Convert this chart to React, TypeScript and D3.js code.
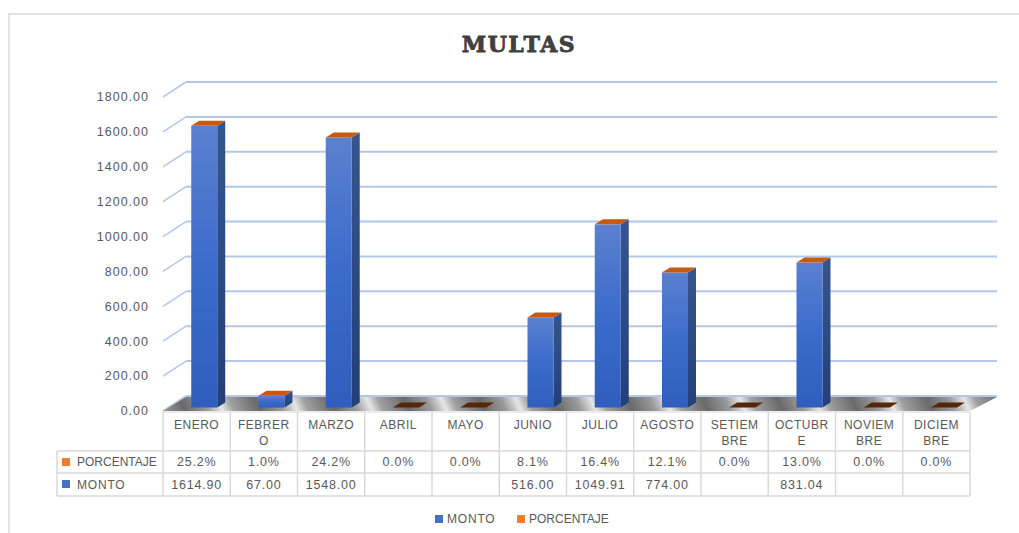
import React from "react";
import * as d3 from "d3";

const categories = ["ENERO", "FEBRERO", "MARZO", "ABRIL", "MAYO", "JUNIO", "JULIO", "AGOSTO", "SETIEMBRE", "OCTUBRE", "NOVIEMBRE", "DICIEMBRE"];
const monto: (number | null)[] = [1614.9, 67.0, 1548.0, null, null, 516.0, 1049.91, 774.0, null, 831.04, null, null];
const porcentaje = [25.2, 1.0, 24.2, 0.0, 0.0, 8.1, 16.4, 12.1, 0.0, 13.0, 0.0, 0.0];
const yTicks = [0, 200, 400, 600, 800, 1000, 1200, 1400, 1600, 1800];
const seriesNames = ["MONTO", "PORCENTAJE"];
const title = "MULTAS";

const W = 1019;
const H = 533;
const FONT = "'Liberation Sans', Arial, sans-serif";
const TXT = "#595959";
const GRID = "#b4c7e7";
const TABLE = "#d9d9d9";
const DEPTH = { dx: 23, dy: -15 };
const BAR = { fdx: 0, fdy: -3.5, sdx: 8, sdy: -5, w: 26 };

function wrap(s: string): string[] {
  const out: string[] = [];
  for (let i = 0; i < s.length; i += 6) out.push(s.slice(i, i + 6));
  return out;
}

export default function App() {
  const x = d3.scaleBand<string>().domain(categories).range([163, 970]).padding(0);
  const y = d3.scaleLinear().domain([0, 1800]).range([411, 97]);
  const bw = x.bandwidth();
  const fmt2 = d3.format(".2f");
  const fmt1 = d3.format(".1f");
  const xL = 163, xR = 970;

  const gridLines = yTicks.map((t) => {
    const y0 = y(t);
    return (
      <g key={t}>
        <line x1={xL} y1={y0} x2={xL + DEPTH.dx} y2={y0 + DEPTH.dy} stroke={GRID} strokeWidth={1.5} />
        <line x1={xL + DEPTH.dx} y1={y0 + DEPTH.dy} x2={xR + 27} y2={y0 + DEPTH.dy} stroke={GRID} strokeWidth={2} />
        <text x={149} y={y0} dy="0.35em" textAnchor="end" fontFamily={FONT} fontSize={12.5} letterSpacing={1} fill={TXT}>
          {fmt2(t)}
        </text>
      </g>
    );
  });

  const floorPts = [
    [xL, y(0)],
    [xR, y(0)],
    [xR + 27, y(0) + DEPTH.dy + 1],
    [xL + DEPTH.dx, y(0) + DEPTH.dy + 1],
  ]
    .map((p) => p.join(","))
    .join(" ");

  const bars = categories.map((c, i) => {
    const v = monto[i] ?? 0;
    const x0 = (x(c) as number) + bw * 0.42 + BAR.fdx;
    const yT = y(v) + BAR.fdy;
    const yB = y(0) + BAR.fdy;
    const topPts = [
      [x0, yT],
      [x0 + BAR.sdx, yT + BAR.sdy],
      [x0 + BAR.w + BAR.sdx, yT + BAR.sdy],
      [x0 + BAR.w, yT],
    ]
      .map((p) => p.join(","))
      .join(" ");
    if (v <= 0) {
      return <polygon key={c} points={topPts} fill="#55270a" />;
    }
    const sidePts = [
      [x0 + BAR.w, yT],
      [x0 + BAR.w + BAR.sdx, yT + BAR.sdy],
      [x0 + BAR.w + BAR.sdx, yB + BAR.sdy],
      [x0 + BAR.w, yB],
    ]
      .map((p) => p.join(","))
      .join(" ");
    return (
      <g key={c}>
        <polygon points={sidePts} fill="url(#sideGrad)" />
        <rect x={x0} y={yT} width={BAR.w} height={yB - yT} fill="url(#frontGrad)" />
        <polygon points={topPts} fill="#c55a11" />
      </g>
    );
  });

  const rowTop = 412, row1 = 451, row2 = 473, row3 = 496, tableLeft = 57;

  const header = categories.map((c) => {
    const cx = (x(c) as number) + bw / 2;
    const lines = wrap(c);
    return (
      <text key={c} x={cx} textAnchor="middle" fontFamily={FONT} fontSize={12} letterSpacing={0.5} fill={TXT}>
        {lines.map((l, k) => (
          <tspan key={k} x={cx} y={425 + k * 16} dy="0.35em">
            {l}
          </tspan>
        ))}
      </text>
    );
  });

  const pctRow = categories.map((c, i) => (
    <text key={c} x={(x(c) as number) + bw / 2} y={(row1 + row2) / 2} dy="0.35em" textAnchor="middle" fontFamily={FONT} fontSize={12.5} letterSpacing={0.8} fill={TXT}>
      {fmt1(porcentaje[i]) + "%"}
    </text>
  ));
  const montoRow = categories.map((c, i) => (
    <text key={c} x={(x(c) as number) + bw / 2} y={(row2 + row3) / 2} dy="0.35em" textAnchor="middle" fontFamily={FONT} fontSize={12.5} letterSpacing={0.8} fill={TXT}>
      {monto[i] == null ? "" : fmt2(monto[i] as number)}
    </text>
  ));

  const colLines = [...categories.map((c) => x(c) as number), xR].map((xx, k) => (
    <line key={k} x1={xx} y1={rowTop} x2={xx} y2={row3} stroke={TABLE} strokeWidth={1.5} />
  ));

  const seriesColor: Record<string, string> = { MONTO: "#4472c4", PORCENTAJE: "#ed7d31" };

  return (
    <svg width={W} height={H} style={{ position: "absolute", left: 0, top: 0, display: "block", background: "#fff" }}>
      <defs>
        <linearGradient id="frontGrad" x1="0" y1="0" x2="0" y2="1">
          <stop offset="0" stopColor="#5b80d0" />
          <stop offset="0.5" stopColor="#3b6bcb" />
          <stop offset="1" stopColor="#2f5ebd" />
        </linearGradient>
        <linearGradient id="sideGrad" x1="0" y1="0" x2="0" y2="1">
          <stop offset="0" stopColor="#36558f" />
          <stop offset="1" stopColor="#223f7a" />
        </linearGradient>
        <linearGradient id="floorGrad" gradientUnits="userSpaceOnUse" x1="0" y1="0" x2="62" y2="-28" spreadMethod="repeat">
          <stop offset="0" stopColor="#6a6a6a" />
          <stop offset="0.3" stopColor="#9a9a9a" />
          <stop offset="0.5" stopColor="#e6e6e6" />
          <stop offset="0.65" stopColor="#a0a0a0" />
          <stop offset="1" stopColor="#6a6a6a" />
        </linearGradient>
      </defs>
      <line x1={8} y1={14} x2={W} y2={14} stroke="#d9d9d9" strokeWidth={1.5} />
      <line x1={9} y1={14} x2={9} y2={H} stroke="#d9d9d9" strokeWidth={1.5} />

      <text x={519} y={44} dy="0.35em" textAnchor="middle" fontFamily="'DejaVu Serif', serif" fontWeight="bold" fontSize={22} letterSpacing={1.5} fill="#404040" stroke="#404040" strokeWidth={0.8}>
        {title}
      </text>

      {gridLines}
      <polygon points={floorPts} fill="url(#floorGrad)" />
      {bars}

      <line x1={xL} y1={rowTop} x2={xR} y2={rowTop} stroke={TABLE} strokeWidth={1} />
      {[row1, row2, row3].map((yy) => (
        <line key={yy} x1={tableLeft} y1={yy} x2={xR} y2={yy} stroke={TABLE} strokeWidth={1.5} />
      ))}
      <line x1={tableLeft} y1={row1} x2={tableLeft} y2={row3} stroke={TABLE} strokeWidth={1.5} />
      {colLines}
      {header}
      {pctRow}
      {montoRow}

      <rect x={62} y={458} width={8} height={8} fill={seriesColor.PORCENTAJE} />
      <text x={77} y={(row1 + row2) / 2} dy="0.35em" fontFamily={FONT} fontSize={12} fill={TXT}>PORCENTAJE</text>
      <rect x={62} y={480} width={8} height={8} fill={seriesColor.MONTO} />
      <text x={77} y={(row2 + row3) / 2} dy="0.35em" fontFamily={FONT} fontSize={12} letterSpacing={0.8} fill={TXT}>MONTO</text>

      {seriesNames.map((s, k) => {
        const lx = k === 0 ? 435 : 517;
        return (
          <g key={s}>
            <rect x={lx} y={515} width={8} height={8} fill={seriesColor[s]} />
            <text x={lx + 12} y={519} dy="0.35em" fontFamily={FONT} fontSize={12} letterSpacing={k === 0 ? 0.8 : 0} fill={TXT}>
              {s}
            </text>
          </g>
        );
      })}
    </svg>
  );
}
